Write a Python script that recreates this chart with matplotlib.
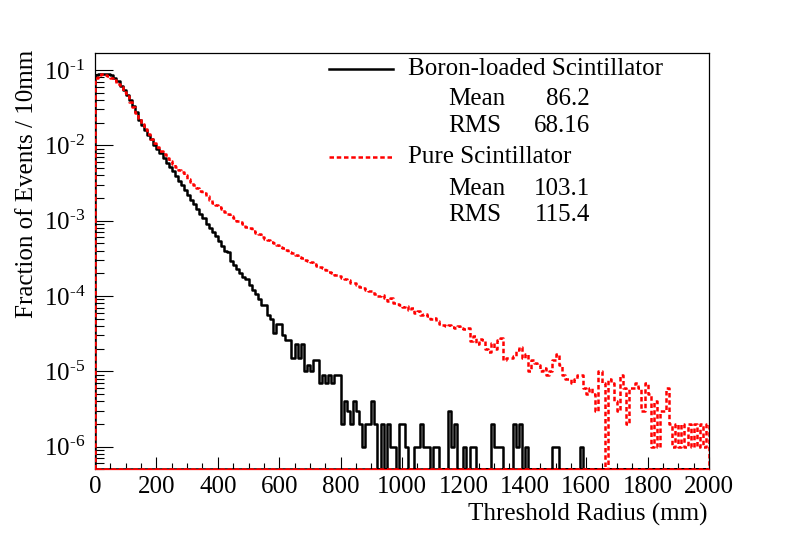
import numpy as np
import matplotlib
matplotlib.use('Agg')
import matplotlib.pyplot as plt
from matplotlib.lines import Line2D
from matplotlib.ticker import LogLocator, MultipleLocator, FuncFormatter, NullFormatter

plt.rcParams['font.family'] = 'Liberation Serif'
plt.rcParams['mathtext.fontset'] = 'custom'
plt.rcParams['mathtext.rm'] = 'Liberation Serif'
plt.rcParams['mathtext.it'] = 'Liberation Serif:italic'
plt.rcParams['axes.unicode_minus'] = False

# 10 mm bins from 0 to 2000 mm
edges = np.arange(0, 2001, 10)

boron = [
    8.7e-2, 8.9e-2, 9.0e-2, 9.0e-2, 8.9e-2, 8.5e-2, 7.9e-2, 7.1e-2, 6.2e-2, 5.4e-2,
    4.7e-2, 4.0e-2, 3.3e-2, 2.75e-2, 2.2e-2, 1.86e-2, 1.62e-2, 1.38e-2, 1.2e-2, 1.02e-2,
    8.9e-3, 7.8e-3, 6.8e-3, 5.9e-3, 5.1e-3, 4.5e-3, 3.9e-3, 3.4e-3, 2.95e-3, 2.57e-3,
    2.19e-3, 1.91e-3, 1.66e-3, 1.41e-3, 1.23e-3, 1.07e-3, 9.1e-4, 7.9e-4, 7.1e-4, 6.2e-4,
    5.4e-4, 4.6e-4, 4.0e-4, 3.8e-4, 2.95e-4, 2.57e-4, 2.29e-4, 2.0e-4, 1.78e-4, 1.7e-4,
    1.38e-4, 1.2e-4, 1.07e-4, 9.0e-5, 7.7e-5, 7.5e-5, 5.6e-5, 5.0e-5, 3.2e-5, 4.3e-5,
    4.3e-5, 3.0e-5, 2.6e-5, 2.6e-5, 1.5e-5, 2.3e-5, 1.5e-5, 2.3e-5, 1.0e-5, 1.2e-5,
    1.0e-5, 1.4e-5, 1.4e-5, 7e-6, 9e-6, 7e-6, 9e-6, 7e-6, 9e-6, 9e-6,
    2e-6, 4e-6, 3e-6, 2e-6, 4e-6, 3e-6, 2e-6, 1e-6, 2e-6, 2e-6,
    4e-6, 2e-6, 0, 2e-6, 0, 2e-6, 1e-6, 1e-6, 0, 2e-6,
    2e-6, 1e-6, 0, 0, 1e-6, 1e-6, 2e-6, 1e-6, 1e-6, 0,
    1e-6, 1e-6, 0, 0, 0, 3e-6, 1e-6, 2e-6, 0, 0,
    1e-6, 0, 1e-6, 1e-6, 0, 0, 0, 0, 0, 2e-6,
    1e-6, 1e-6, 1e-6, 0, 0, 0, 2e-6, 1e-6, 2e-6, 0,
    1e-6, 0, 0, 0, 0, 0, 0, 0, 0, 1e-6,
    1e-6, 0, 0, 0, 0, 0, 0, 0, 1e-6, 0,
    0, 0, 0, 0, 0, 0, 0, 0, 0, 0,
    0, 0, 0, 0, 0, 0, 0, 0, 0, 0,
    0, 0, 0, 0, 0, 0, 0, 0, 0, 0,
    0, 0, 0, 0, 0, 0, 0, 0, 0, 0,
]

pure = [
    7.9e-2, 8.7e-2, 8.8e-2, 8.7e-2, 8.3e-2, 7.9e-2, 7.4e-2, 6.6e-2, 5.9e-2, 5.1e-2,
    4.5e-2, 3.8e-2, 3.2e-2, 2.7e-2, 2.3e-2, 1.95e-2, 1.66e-2, 1.41e-2, 1.23e-2, 1.07e-2,
    9.5e-3, 8.5e-3, 7.6e-3, 6.8e-3, 6.2e-3, 5.6e-3, 5.1e-3, 4.7e-3, 4.4e-3, 4.0e-3,
    3.6e-3, 3.3e-3, 3.0e-3, 2.75e-3, 2.5e-3, 2.3e-3, 2.1e-3, 1.91e-3, 1.74e-3, 1.62e-3,
    1.51e-3, 1.41e-3, 1.32e-3, 1.23e-3, 1.15e-3, 1.07e-3, 1.0e-3, 9.5e-4, 8.9e-4, 8.3e-4,
    7.9e-4, 7.4e-4, 6.9e-4, 6.6e-4, 6.0e-4, 5.75e-4, 5.5e-4, 5.25e-4, 5.0e-4, 4.7e-4,
    4.5e-4, 4.4e-4, 4.1e-4, 3.8e-4, 3.7e-4, 3.55e-4, 3.3e-4, 3.16e-4, 3.0e-4, 2.9e-4,
    2.8e-4, 2.7e-4, 2.5e-4, 2.45e-4, 2.35e-4, 2.2e-4, 2.1e-4, 2.0e-4, 1.9e-4, 1.86e-4,
    1.74e-4, 1.7e-4, 1.62e-4, 1.51e-4, 1.48e-4, 1.38e-4, 1.32e-4, 1.26e-4, 1.2e-4, 1.15e-4,
    1.17e-4, 1.07e-4, 1.0e-4, 1.02e-4, 9.5e-5, 8.7e-5, 9.3e-5, 8.1e-5, 7.9e-5, 7.6e-5,
    7.1e-5, 7.4e-5, 6.6e-5, 6.9e-5, 6.0e-5, 6.3e-5, 5.6e-5, 5.8e-5, 5.4e-5, 5.0e-5,
    5.1e-5, 4.7e-5, 4.2e-5, 4.1e-5, 4.0e-5, 4.1e-5, 3.9e-5, 3.8e-5, 4.0e-5, 3.8e-5,
    3.6e-5, 3.8e-5, 2.5e-5, 2.9e-5, 2.3e-5, 2.7e-5, 2.6e-5, 2.0e-5, 1.8e-5, 2.4e-5,
    2.0e-5, 2.6e-5, 2.8e-5, 1.4e-5, 1.5e-5, 1.5e-5, 1.6e-5, 1.9e-5, 2.1e-5, 1.5e-5,
    1.7e-5, 1.0e-5, 1.4e-5, 1.3e-5, 1.2e-5, 1.0e-5, 1.1e-5, 9e-6, 1.0e-5, 1.4e-5,
    1.7e-5, 1.2e-5, 9e-6, 8e-6, 8e-6, 7e-6, 8e-6, 9e-6, 9e-6, 6e-6,
    5e-6, 6e-6, 5e-6, 3e-6, 1.0e-5, 7e-6, 0, 8e-6, 7e-6, 4e-6,
    3e-6, 9e-6, 6e-6, 2e-6, 6e-6, 6e-6, 7e-6, 6e-6, 3e-6, 7e-6,
    5e-6, 1e-6, 4e-6, 1e-6, 3e-6, 3e-6, 6e-6, 2e-6, 1e-6, 2e-6,
    1e-6, 2e-6, 1e-6, 2e-6, 1e-6, 2e-6, 1e-6, 2e-6, 1e-6, 2e-6,
]

labels = ["Boron-loaded Scintillator", "Pure Scintillator"]
means = ["86.2", "103.1"]
rmss = ["68.16", "115.4"]

ymin, ymax = 5e-7, 0.17

W, H = 788, 534
fig = plt.figure(figsize=(W / 100, H / 100), dpi=100)
ax = fig.add_axes([95 / W, 1 - 469.3 / H, (709 - 95) / W, (469.3 - 52.7) / H])


def outline(vals):
    # closed ROOT-style histogram outline, empty bins sit on the frame
    v = np.clip(np.asarray(vals, float), ymin, None)
    xs = np.concatenate([[edges[0]], np.repeat(edges, 2)[1:-1], [edges[-1], edges[0]]])
    ys = np.concatenate([[ymin], np.repeat(v, 2), [ymin, ymin]])
    return xs, ys


lw = 1.8
dash = (1.8, 1.1)
xb, yb = outline(boron)
ax.plot(xb, yb, color='black', lw=lw, zorder=3)
xp, yp = outline(pure)
ax.plot(xp, yp, color='red', lw=lw, dashes=dash, zorder=4)

ax.set_yscale('log')
ax.set_xlim(0, 2000)
ax.set_ylim(ymin, ymax)


def pow10(v, pos):
    return r'$\mathdefault{10^{\text{-}%d}}$' % round(-np.log10(v))


ax.xaxis.set_major_locator(MultipleLocator(200))
ax.xaxis.set_minor_locator(MultipleLocator(50))
ax.yaxis.set_major_locator(LogLocator(base=10, numticks=20))
ax.yaxis.set_minor_locator(LogLocator(base=10, subs=np.arange(2, 10), numticks=20))
ax.yaxis.set_major_formatter(FuncFormatter(pow10))
ax.yaxis.set_minor_formatter(NullFormatter())

fs = 18
ax.tick_params(axis='x', which='major', direction='in', length=8.6, width=0.8, labelsize=fs, pad=5)
ax.tick_params(axis='x', which='minor', direction='in', length=4.3, width=0.8)
ax.tick_params(axis='y', which='major', direction='in', length=13, width=0.8, labelsize=fs, pad=7)
ax.tick_params(axis='y', which='minor', direction='in', length=6.5, width=0.8)
ax.tick_params(top=False, right=False, which='both')
for s in ax.spines.values():
    s.set_linewidth(0.9)
ax.spines['bottom'].set_color('red')

fig.text(707 / W, 1 - 514 / H, "Threshold Radius (mm)", ha='right', va='center', fontsize=fs)
fig.text(27 / W, 1 - 50 / H, "Fraction of Events / 10mm", ha='center', va='top',
         rotation=90, fontsize=fs)

# legend with statistics
rows = [(69, 99, 126), (157, 189, 215)]
styles = [dict(color='black', lw=lw), dict(color='red', lw=lw, dashes=dash)]
for i in range(2):
    y0, y1, y2 = rows[i]
    fig.add_artist(Line2D([329 / W, 393 / W], [1 - y0 / H, 1 - y0 / H], **styles[i]))
    fig.text(408 / W, 1 - y0 / H, labels[i], ha='left', va='center', fontsize=fs)
    fig.text(448 / W, 1 - y1 / H, "Mean", ha='left', va='center', fontsize=fs)
    fig.text(590 / W, 1 - y1 / H, means[i], ha='right', va='center', fontsize=fs)
    fig.text(448 / W, 1 - y2 / H, "RMS", ha='left', va='center', fontsize=fs)
    fig.text(590 / W, 1 - y2 / H, rmss[i], ha='right', va='center', fontsize=fs)

fig.savefig('out.png', dpi=100)
